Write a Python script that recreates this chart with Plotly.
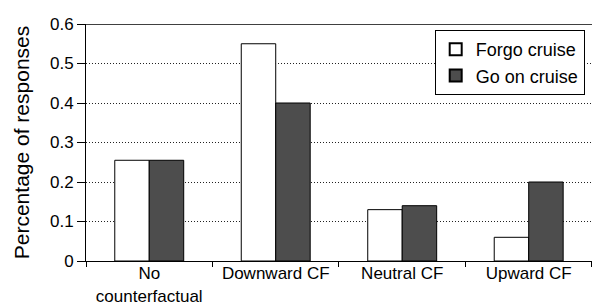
import plotly.graph_objects as go

categories = ["No<br>counterfactual", "Downward CF", "Neutral CF", "Upward CF"]
forgo = [0.255, 0.55, 0.13, 0.06]
go_on = [0.255, 0.40, 0.14, 0.20]
y_ticks = [0, 0.1, 0.2, 0.3, 0.4, 0.5, 0.6]
y_ticklabels = ["0", "0.1", "0.2", "0.3", "0.4", "0.5", "0.6"]

fig = go.Figure()
fig.add_trace(go.Bar(x=categories, y=forgo, name="Forgo cruise",
                     marker=dict(color="white", line=dict(color="black", width=1))))
fig.add_trace(go.Bar(x=categories, y=go_on, name="Go on cruise",
                     marker=dict(color="#4d4d4d", line=dict(color="black", width=1))))

fig.update_layout(
    width=600, height=307,
    margin=dict(l=78, r=0, t=16, b=54),
    paper_bgcolor="white", plot_bgcolor="white",
    font=dict(family="Liberation Sans, Arial, sans-serif", size=18, color="black"),
    barmode="group", bargap=0.455, bargroupgap=0,
    showlegend=True,
    legend=dict(x=0.668, y=0.975, xanchor="left", yanchor="top",
                bordercolor="black", borderwidth=1, bgcolor="white",
                font=dict(size=18), itemsizing="constant",
                tracegroupgap=0, itemwidth=30),
    shapes=[dict(type="line", xref="paper", yref="y", x0=0, x1=1, y0=0.6, y1=0.6,
                 line=dict(color="black", width=1.5))],
)
fig.update_xaxes(
    range=[-0.5, 3.627],
    showline=True, linecolor="black", linewidth=1,
    ticks="outside", tickson="boundaries", ticklen=5, tickcolor="black",
    showgrid=False, tickfont=dict(size=17), ticklabelstandoff=-3,
)
fig.update_yaxes(
    range=[0, 0.6],
    tickvals=y_ticks, ticktext=y_ticklabels,
    showline=True, linecolor="black", linewidth=1,
    ticks="outside", ticklen=8, tickcolor="black",
    showgrid=True, gridcolor="#222222", griddash="1px,2px", gridwidth=1,
    zeroline=False,
    title=dict(text="Percentage of responses", font=dict(size=21), standoff=14),
    tickfont=dict(size=17),
)
fig.write_html("out.html")
